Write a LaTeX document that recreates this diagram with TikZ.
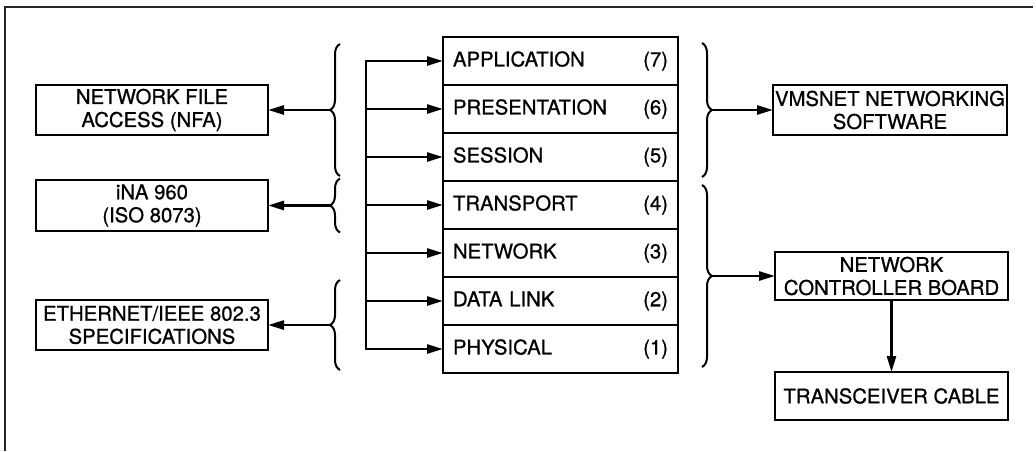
\documentclass[tikz,border=0pt]{standalone}
\usepackage{fontspec}
\setmainfont{TeX Gyre Heros}
\newfontfamily\boxfont{TeX Gyre Heros}[FakeBold=0.8]
\usetikzlibrary{arrows.meta,positioning,calc,decorations.pathreplacing}

\begin{document}
\begin{tikzpicture}[x=1pt,y=-1pt,every node/.style={font=\boxfont\fontsize{20.3}{23}\selectfont,align=center},
  box/.style={draw,line width=2.6pt,inner sep=2pt,outer sep=0pt},
  layer/.style={draw,line width=2.6pt,minimum width=235pt,minimum height=48pt,text width=215pt,inner xsep=10pt,align=left,outer sep=0pt},
  arr/.style={-{Triangle[length=16pt,width=9pt]},line width=2.6pt},
  grp/.style={decorate,decoration={brace,amplitude=10pt},line width=2pt}]
\useasboundingbox (0,0) rectangle (1036,451);
% page frame
\draw[line width=1.4pt,black!85] (1033,7) -- (5,7) -- (5,451);
% the seven layers
\foreach \n/\name [count=\i] in {7/APPLICATION,6/PRESENTATION,5/SESSION,4/TRANSPORT,3/NETWORK,2/DATA LINK,1/PHYSICAL}
  \node[layer] (l\n) at (560.5,{13+48*\i}) {\name\hfill(\n)};
\coordinate (bus) at (366,0);
\draw[{Triangle[length=16pt,width=9pt]}-{Triangle[length=16pt,width=9pt]},line width=2.6pt] (l7.west) -- (bus |- l7.west) -- (bus |- l1.west) -- (l1.west);
\foreach \n in {2,...,6}
  \draw[arr] (bus |- l\n.west) -- (l\n.west);
% left side
\node[box,minimum width=232pt,minimum height=50pt] (nfa) at (152,110) {NETWORK FILE\\ACCESS (NFA)};
\node[box,minimum width=232pt,minimum height=51pt] (ina) at (152,205.5) {iNA 960\\(ISO 8073)};
\node[box,minimum width=232pt,minimum height=50pt] (eth) at (152,325) {ETHERNET/IEEE 802.3\\SPECIFICATIONS};
\draw[grp] (340,176) -- (340,44);
\draw[grp] (340,232.5) -- (340,178.5);
\draw[grp] (340,370) -- (340,280);
\coordinate (nfa tip) at (330,110);
\coordinate (ina tip) at (330,205.5);
\coordinate (eth tip) at (330,325);
\draw[arr] (nfa tip) -- (nfa);
\draw[arr] (ina tip) -- (ina);
\draw[arr] (eth tip) -- (eth);
% right side
\node[box,minimum width=230pt,minimum height=50pt] (vms) at (890,110) {VMSNET NETWORKING\\SOFTWARE};
\node[box,minimum width=233pt,minimum height=48pt] (ncb) at (891.5,276) {NETWORK\\CONTROLLER BOARD};
\node[box,minimum width=233pt,minimum height=48pt,below=72pt of ncb] (trx) {TRANSCEIVER CABLE};
\draw[grp] (702,43) -- (702,177);
\draw[grp] (702,185) -- (702,367);
\coordinate (vms tip) at (712,110);
\coordinate (ncb tip) at (712,276);
\draw[arr] (vms tip) -- (vms);
\draw[arr] (ncb tip) -- (ncb);
\draw[arr] (ncb) -- (trx);
\end{tikzpicture}
\end{document}
